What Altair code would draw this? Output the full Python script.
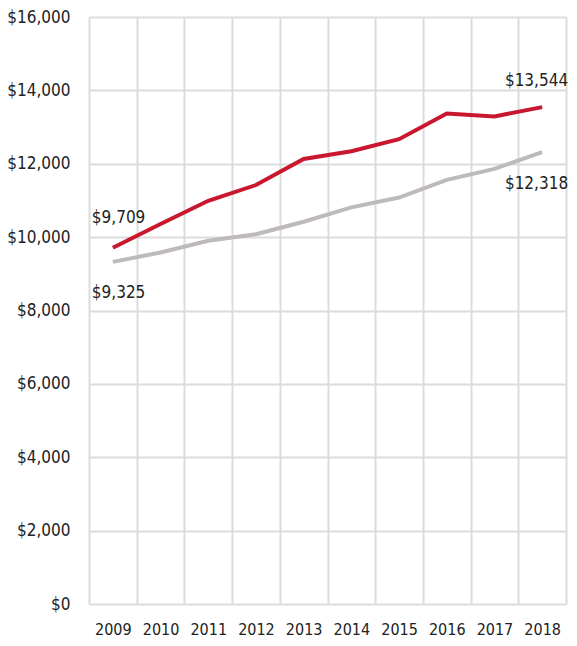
import altair as alt
import pandas as pd

years = ["2009", "2010", "2011", "2012", "2013", "2014", "2015", "2016", "2017", "2018"]
red_values = [9709, 10360, 10990, 11420, 12130, 12340, 12670, 13370, 13290, 13544]
gray_values = [9325, 9580, 9900, 10080, 10420, 10810, 11080, 11560, 11860, 12318]
series_names = ["Red series", "Gray series"]
y_ticks = [0, 2000, 4000, 6000, 8000, 10000, 12000, 14000, 16000]

rows = []
for y, v in zip(years, red_values):
    rows.append({"year": y, "value": v, "series": series_names[0]})
for y, v in zip(years, gray_values):
    rows.append({"year": y, "value": v, "series": series_names[1]})
df = pd.DataFrame(rows)

FONT = "DejaVu Sans Condensed, Roboto, sans-serif"

x_enc = alt.X(
    "year:O",
    scale=alt.Scale(type="band", paddingInner=0, paddingOuter=0),
    bandPosition=0.5,
    axis=alt.Axis(
        title=None, labelAngle=0, tickBand="extent", grid=True, ticks=False,
        domain=False, labelPadding=33, labelBaseline="bottom", labelFont=FONT,
        labelFontSize=16, labelColor="#222", gridColor="#dcdcdc", gridWidth=2,
    ),
)
y_enc = alt.Y(
    "value:Q",
    scale=alt.Scale(domain=[0, 16000], nice=False, zero=True),
    axis=alt.Axis(
        title=None, values=y_ticks, format="$,.0f", ticks=False, domain=False,
        labelPadding=19, labelFont=FONT, labelFontSize=17, labelColor="#222",
        gridColor="#dcdcdc", gridWidth=2,
    ),
)

lines = alt.Chart(df).mark_line(strokeWidth=4, strokeCap="butt").encode(
    x=x_enc,
    y=y_enc,
    color=alt.Color(
        "series:N",
        scale=alt.Scale(domain=series_names, range=["#c8172e", "#bdbab9"]),
        legend=None,
    ),
)

def label(series, year, dx, dy, align):
    return alt.Chart(df).transform_filter(
        (alt.datum.series == series) & (alt.datum.year == year)
    ).mark_text(
        font=FONT, fontSize=17, color="#222", dx=dx, dy=dy, align=align,
        baseline="middle",
    ).encode(
        x=alt.X("year:O", bandPosition=0.5),
        y="value:Q",
        text=alt.Text("value:Q", format="$,.0f"),
    )

labels = [
    label(series_names[0], "2009", -21, -30, "left"),
    label(series_names[1], "2009", -21, 31, "left"),
    label(series_names[0], "2018", 26, -26, "right"),
    label(series_names[1], "2018", 26, 32, "right"),
]

chart = alt.layer(lines, *labels).properties(
    width=477,
    height=587,
    autosize=alt.AutoSizeParams(type="none"),
    padding={"left": 81, "top": 9, "right": 3, "bottom": 34},
).configure_view(strokeWidth=0)

chart.save("out.html", embed_options={"renderer": "svg", "actions": False})
